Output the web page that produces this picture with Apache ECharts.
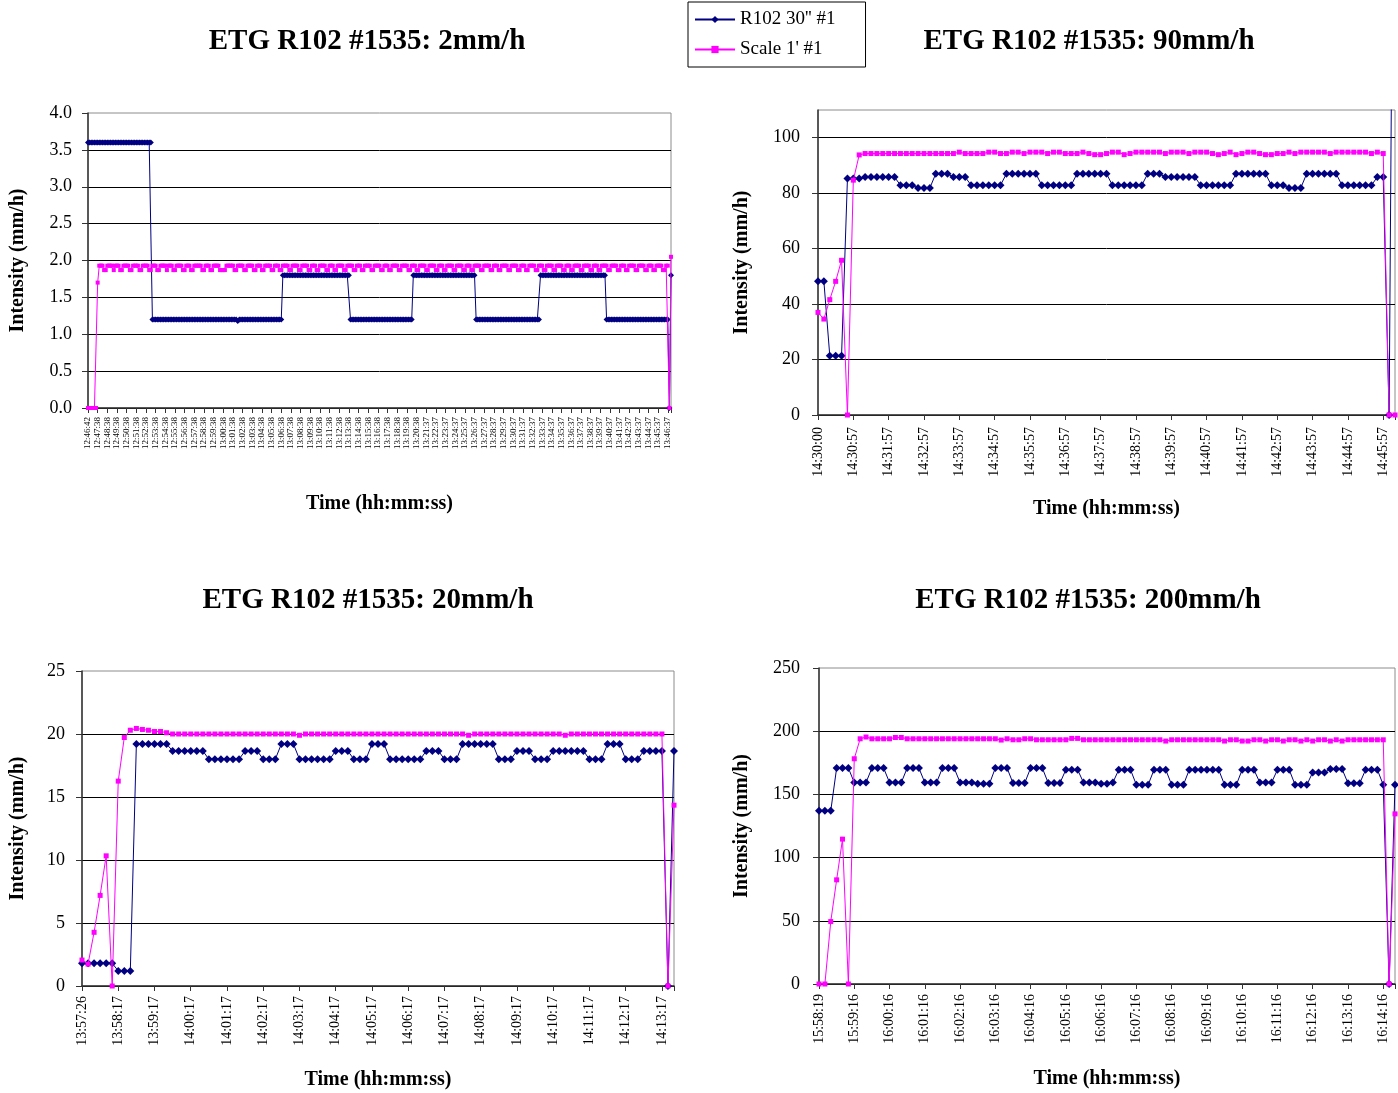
<!DOCTYPE html>
<html><head><meta charset="utf-8">
<script src="https://cdn.jsdelivr.net/npm/echarts@6/dist/echarts.min.js"></script>
<style>html,body{margin:0;padding:0;background:#fff}#c{width:1398px;height:1093px}</style>
</head><body><div id="c"></div>
<script>
const seriesNames = ["R102 30'' #1", "Scale 1' #1"];
const panelTitles = ['ETG R102 #1535: 2mm/h', 'ETG R102 #1535: 90mm/h', 'ETG R102 #1535: 20mm/h', 'ETG R102 #1535: 200mm/h'];
const yTitle = 'Intensity (mm/h)';
const xTitle = 'Time (hh:mm:ss)';

// ---- tick labels (one every 6 samples) ----
const ticksTL = ['12:46:42','12:47:38','12:48:38','12:49:38','12:50:38','12:51:38','12:52:38','12:53:38','12:54:38','12:55:38',
 '12:56:38','12:57:38','12:58:38','12:59:38','13:00:38','13:01:38','13:02:38','13:03:38','13:04:38','13:05:38',
 '13:06:38','13:07:38','13:08:38','13:09:38','13:10:38','13:11:38','13:12:38','13:13:38','13:14:38','13:15:38',
 '13:16:38','13:17:38','13:18:38','13:19:38','13:20:38','13:21:37','13:22:37','13:23:37','13:24:37','13:25:37',
 '13:26:37','13:27:37','13:28:37','13:29:37','13:30:37','13:31:37','13:32:37','13:33:37','13:34:37','13:35:37',
 '13:36:37','13:37:37','13:38:37','13:39:37','13:40:37','13:41:37','13:42:37','13:43:37','13:44:37','13:45:37','13:46:37'];
const ticksTR = ['14:30:00','14:30:57','14:31:57','14:32:57','14:33:57','14:34:57','14:35:57','14:36:57','14:37:57',
 '14:38:57','14:39:57','14:40:57','14:41:57','14:42:57','14:43:57','14:44:57','14:45:57'];
const ticksBL = ['13:57:26','13:58:17','13:59:17','14:00:17','14:01:17','14:02:17','14:03:17','14:04:17','14:05:17',
 '14:06:17','14:07:17','14:08:17','14:09:17','14:10:17','14:11:17','14:12:17','14:13:17'];
const ticksBR = ['15:58:19','15:59:16','16:00:16','16:01:16','16:02:16','16:03:16','16:04:16','16:05:16','16:06:16',
 '16:07:16','16:08:16','16:09:16','16:10:16','16:11:16','16:12:16','16:13:16','16:14:16'];

// ---- 2 mm/h (363 samples) ----
const blueTL = [
 3.6,3.6,3.6,3.6,3.6,3.6,3.6,3.6,3.6,3.6,3.6,3.6,3.6,3.6,3.6,3.6,3.6,3.6,3.6,3.6,3.6,3.6,3.6,3.6,3.6,3.6,3.6,3.6,3.6,3.6,
 3.6,3.6,3.6,3.6,3.6,3.6,3.6,3.6,3.6,3.6,1.2,1.2,1.2,1.2,1.2,1.2,1.2,1.2,1.2,1.2,1.2,1.2,1.2,1.2,1.2,1.2,1.2,1.2,1.2,1.2,
 1.2,1.2,1.2,1.2,1.2,1.2,1.2,1.2,1.2,1.2,1.2,1.2,1.2,1.2,1.2,1.2,1.2,1.2,1.2,1.2,1.2,1.2,1.2,1.2,1.2,1.2,1.2,1.2,1.2,1.2,
 1.2,1.2,1.2,1.18,1.2,1.2,1.2,1.2,1.2,1.2,1.2,1.2,1.2,1.2,1.2,1.2,1.2,1.2,1.2,1.2,1.2,1.2,1.2,1.2,1.2,1.2,1.2,1.2,1.2,1.2,
 1.2,1.8,1.8,1.8,1.8,1.8,1.8,1.8,1.8,1.8,1.8,1.8,1.8,1.8,1.8,1.8,1.8,1.8,1.8,1.8,1.8,1.8,1.8,1.8,1.8,1.8,1.8,1.8,1.8,1.8,
 1.8,1.8,1.8,1.8,1.8,1.8,1.8,1.8,1.8,1.8,1.8,1.8,1.8,1.2,1.2,1.2,1.2,1.2,1.2,1.2,1.2,1.2,1.2,1.2,1.2,1.2,1.2,1.2,1.2,1.2,
 1.2,1.2,1.2,1.2,1.2,1.2,1.2,1.2,1.2,1.2,1.2,1.2,1.2,1.2,1.2,1.2,1.2,1.2,1.2,1.2,1.2,1.2,1.8,1.8,1.8,1.8,1.8,1.8,1.8,1.8,
 1.8,1.8,1.8,1.8,1.8,1.8,1.8,1.8,1.8,1.8,1.8,1.8,1.8,1.8,1.8,1.8,1.8,1.8,1.8,1.8,1.8,1.8,1.8,1.8,1.8,1.8,1.8,1.8,1.8,1.8,
 1.8,1.2,1.2,1.2,1.2,1.2,1.2,1.2,1.2,1.2,1.2,1.2,1.2,1.2,1.2,1.2,1.2,1.2,1.2,1.2,1.2,1.2,1.2,1.2,1.2,1.2,1.2,1.2,1.2,1.2,
 1.2,1.2,1.2,1.2,1.2,1.2,1.2,1.2,1.2,1.2,1.2,1.8,1.8,1.8,1.8,1.8,1.8,1.8,1.8,1.8,1.8,1.8,1.8,1.8,1.8,1.8,1.8,1.8,1.8,1.8,
 1.8,1.8,1.8,1.8,1.8,1.8,1.8,1.8,1.8,1.8,1.8,1.8,1.8,1.8,1.8,1.8,1.8,1.8,1.8,1.8,1.8,1.8,1.2,1.2,1.2,1.2,1.2,1.2,1.2,1.2,
 1.2,1.2,1.2,1.2,1.2,1.2,1.2,1.2,1.2,1.2,1.2,1.2,1.2,1.2,1.2,1.2,1.2,1.2,1.2,1.2,1.2,1.2,1.2,1.2,1.2,1.2,1.2,1.2,1.2,1.2,
 1.2,0,1.8];
const pinkTL = [
 0,0,0,0,0,0,1.7,1.93,1.93,1.93,1.87,1.87,1.93,1.93,1.93,1.93,1.87,1.93,1.93,1.93,1.87,1.87,1.93,1.93,1.93,1.93,1.87,1.87,1.93,1.93,
 1.93,1.93,1.87,1.87,1.93,1.93,1.93,1.93,1.87,1.87,1.93,1.93,1.93,1.87,1.87,1.93,1.93,1.93,1.93,1.87,1.93,1.93,1.93,1.87,1.87,1.93,1.93,1.93,1.93,1.87,
 1.87,1.93,1.93,1.93,1.87,1.87,1.93,1.93,1.93,1.93,1.93,1.87,1.87,1.93,1.93,1.93,1.87,1.87,1.93,1.93,1.93,1.93,1.87,1.87,1.87,1.87,1.93,1.93,1.93,1.93,
 1.93,1.87,1.87,1.93,1.93,1.93,1.93,1.87,1.87,1.93,1.93,1.93,1.93,1.87,1.87,1.93,1.93,1.93,1.87,1.87,1.93,1.93,1.93,1.93,1.87,1.87,1.93,1.93,1.93,1.87,
 1.87,1.93,1.93,1.93,1.93,1.87,1.87,1.93,1.93,1.93,1.93,1.87,1.87,1.93,1.93,1.93,1.93,1.87,1.87,1.93,1.93,1.93,1.87,1.87,1.93,1.93,1.93,1.93,1.87,1.87,
 1.93,1.93,1.93,1.87,1.87,1.93,1.93,1.93,1.93,1.87,1.87,1.93,1.93,1.93,1.93,1.87,1.87,1.93,1.93,1.93,1.87,1.87,1.93,1.93,1.93,1.93,1.87,1.87,1.93,1.93,
 1.93,1.93,1.87,1.87,1.93,1.93,1.93,1.87,1.87,1.93,1.93,1.93,1.93,1.87,1.87,1.93,1.93,1.93,1.93,1.87,1.87,1.93,1.93,1.93,1.87,1.87,1.93,1.93,1.93,1.93,
 1.87,1.87,1.93,1.93,1.93,1.93,1.87,1.87,1.93,1.93,1.93,1.87,1.87,1.93,1.93,1.93,1.93,1.87,1.87,1.93,1.93,1.93,1.93,1.87,1.87,1.93,1.93,1.93,1.87,1.87,
 1.93,1.93,1.93,1.93,1.87,1.87,1.93,1.93,1.93,1.93,1.87,1.87,1.93,1.93,1.93,1.87,1.87,1.93,1.93,1.93,1.93,1.87,1.87,1.93,1.93,1.93,1.93,1.87,1.87,1.93,
 1.93,1.93,1.87,1.87,1.93,1.93,1.93,1.93,1.87,1.87,1.93,1.93,1.93,1.87,1.87,1.93,1.93,1.93,1.93,1.87,1.87,1.93,1.93,1.93,1.93,1.87,1.87,1.93,1.93,1.93,
 1.87,1.87,1.93,1.93,1.93,1.93,1.87,1.87,1.93,1.93,1.93,1.93,1.87,1.87,1.93,1.93,1.93,1.87,1.87,1.93,1.93,1.93,1.93,1.87,1.87,1.93,1.93,1.93,1.93,1.87,
 1.87,1.93,1.93,1.93,1.87,1.87,1.93,1.93,1.93,1.93,1.87,1.87,1.93,1.93,1.93,1.93,1.87,1.87,1.93,1.93,1.93,1.87,1.87,1.93,1.93,1.93,1.93,1.87,1.87,1.93,
 1.93,0,2.05];

// ---- 90 mm/h (99 samples) ----
const blueTR = [48.2,48.2,21.4,21.4,21.4,85.3,85.3,85.3,85.8,85.8,85.8,85.8,85.8,85.8,82.9,82.9,82.9,81.9,81.9,81.9,
 87.0,87.0,87.0,85.8,85.8,85.8,82.9,82.9,82.9,82.9,82.9,82.9,87.0,87.0,87.0,87.0,87.0,87.0,82.9,82.9,
 82.9,82.9,82.9,82.9,87.0,87.0,87.0,87.0,87.0,87.0,82.9,82.9,82.9,82.9,82.9,82.9,87.0,87.0,87.0,85.8,
 85.8,85.8,85.8,85.8,85.8,82.9,82.9,82.9,82.9,82.9,82.9,87.0,87.0,87.0,87.0,87.0,87.0,82.9,82.9,82.9,
 81.9,81.9,81.9,87.0,87.0,87.0,87.0,87.0,87.0,82.9,82.9,82.9,82.9,82.9,82.9,85.8,85.8,0,300];
const pinkTR = [37.0,34.6,41.6,48.2,55.8,0,84.7,93.8,
 94.3,94.3,94.3,94.3,94.3,94.3,94.3,94.3,94.3,94.3,94.3,94.3,
 94.3,94.3,94.3,94.3,94.8,94.3,94.3,94.3,94.3,94.8,94.8,94.3,
 94.3,94.8,94.8,94.3,94.8,94.8,94.8,94.3,94.8,94.8,94.3,94.3,
 94.3,94.8,94.3,93.9,93.9,94.3,94.8,94.8,93.9,94.3,94.8,94.8,
 94.8,94.8,94.8,94.3,94.8,94.8,94.8,94.3,94.8,94.8,94.8,94.3,
 93.9,94.3,94.8,93.9,94.3,94.8,94.8,94.3,93.9,93.9,94.3,94.3,
 94.8,94.3,94.8,94.8,94.8,94.8,94.8,94.3,94.8,94.8,94.8,94.8,
 94.8,94.8,94.3,94.8,94.3,0,0];

// ---- 20 mm/h (99 samples) ----
const blueBL = [1.8,1.8,1.8,1.8,1.8,1.8,1.2,1.2,1.2,19.2,19.2,19.2,19.2,19.2,19.2,18.66,18.66,18.66,18.66,18.66,
 18.66,18.0,18.0,18.0,18.0,18.0,18.0,18.66,18.66,18.66,18.0,18.0,18.0,19.2,19.2,19.2,18.0,18.0,18.0,18.0,
 18.0,18.0,18.66,18.66,18.66,18.0,18.0,18.0,19.2,19.2,19.2,18.0,18.0,18.0,18.0,18.0,18.0,18.66,18.66,18.66,
 18.0,18.0,18.0,19.2,19.2,19.2,19.2,19.2,19.2,18.0,18.0,18.0,18.66,18.66,18.66,18.0,18.0,18.0,18.66,18.66,
 18.66,18.66,18.66,18.66,18.0,18.0,18.0,19.2,19.2,19.2,18.0,18.0,18.0,18.66,18.66,18.66,18.66,0,18.66];
const pinkBL = [2.06,1.74,4.26,7.19,10.33,0,16.26,19.72,20.3,20.44,20.36,20.3,20.2,20.2,20.1,20.0,20.0,20.0,20.0,20.0,
 20.0,20.0,20.0,20.0,20.0,20.0,20.0,20.0,20.0,20.0,20.0,20.0,20.0,20.0,20.0,20.0,19.9,20.0,20.0,20.0,
 20.0,20.0,20.0,20.0,20.0,20.0,20.0,20.0,20.0,20.0,20.0,20.0,20.0,20.0,20.0,20.0,20.0,20.0,20.0,20.0,
 20.0,20.0,20.0,20.0,19.9,20.0,20.0,20.0,20.0,20.0,20.0,20.0,20.0,20.0,20.0,20.0,20.0,20.0,20.0,20.0,
 19.9,20.0,20.0,20.0,20.0,20.0,20.0,20.0,20.0,20.0,20.0,20.0,20.0,20.0,20.0,20.0,20.0,0,14.35];

// ---- 200 mm/h (99 samples) ----
const blueBR = [137.0,137.0,137.0,170.8,170.8,170.8,159.4,159.4,159.4,170.8,170.8,170.8,159.4,159.4,159.4,170.8,170.8,170.8,159.4,159.4,
 159.4,170.8,170.8,170.8,159.4,159.4,159.4,158.4,158.4,158.4,170.8,170.8,170.8,159.0,159.0,159.0,170.8,170.8,170.8,159.0,
 159.0,159.0,169.5,169.5,169.5,159.4,159.4,159.4,158.4,158.4,159.4,169.5,169.5,169.5,157.6,157.6,157.6,169.5,169.5,169.5,
 157.6,157.6,157.6,169.5,169.5,169.5,169.5,169.5,169.5,157.6,157.6,157.6,169.5,169.5,169.5,159.4,159.4,159.4,169.5,169.5,
 169.5,157.6,157.6,157.6,167.4,167.4,167.4,170.0,170.0,170.0,158.9,158.9,158.9,169.5,169.5,169.5,157.6,0,157.6];
const pinkBR = [0,0,49.4,82.4,114.6,0,178.2,194.0,195.4,194.0,
 194.0,194.0,194.0,195.0,195.0,194.0,194.0,194.0,194.0,194.0,194.0,194.0,
 194.0,194.0,194.0,194.0,194.0,194.0,194.0,194.0,194.0,193.0,194.0,193.2,
 193.2,194.0,194.0,193.2,193.2,193.2,193.2,193.2,193.2,194.3,194.3,193.2,
 193.2,193.2,193.2,193.2,193.2,193.2,193.2,193.2,193.2,193.2,193.2,193.2,
 193.2,192.2,193.2,193.2,193.2,193.2,193.2,193.2,193.2,193.2,193.2,192.2,
 193.2,193.2,192.2,192.2,193.2,193.2,192.2,193.2,193.2,192.2,193.2,193.2,
 192.2,193.2,192.2,193.2,193.2,192.2,193.2,192.2,193.2,193.2,193.2,193.2,
 193.2,193.2,193.2,0,134.6];

const F = 'Liberation Serif';
const NAVY = '#000080', MAG = '#FF00FF';

const panels = [
 {title: panelTitles[0], tx: 367, ty: 42, grid: {left: 88, top: 113, width: 583, height: 295}, ticks: ticksTL, blue: blueTL, pink: pinkTL,
  ymax: 4, yint: 0.5, dec: 1, showMax: true, xfs: 9, xm: 9, ym: 16, yGap: 60, xGap: 86, bs: 6, ps: 4},
 {title: panelTitles[1], tx: 1089, ty: 42, grid: {left: 818, top: 110, width: 577, height: 305}, ticks: ticksTR, blue: blueTR, pink: pinkTR,
  ymax: 110, yint: 20, dec: 0, showMax: false, xfs: 14, xm: 12, ym: 18, yGap: 66, xGap: 84, bs: 8, ps: 5},
 {title: panelTitles[2], tx: 368, ty: 601, grid: {left: 82, top: 671, width: 592, height: 315}, ticks: ticksBL, blue: blueBL, pink: pinkBL,
  ymax: 25, yint: 5, dec: 0, showMax: true, xfs: 14, xm: 10, ym: 17, yGap: 54, xGap: 84, bs: 8, ps: 5},
 {title: panelTitles[3], tx: 1088, ty: 601, grid: {left: 819, top: 668, width: 576, height: 316}, ticks: ticksBR, blue: blueBR, pink: pinkBR,
  ymax: 250, yint: 50, dec: 0, showMax: true, xfs: 14, xm: 10, ym: 19, yGap: 67, xGap: 85, bs: 8, ps: 5}
];

function cats(ticks, n) {
  const out = [];
  for (let i = 0; i < n; i++) out.push(i % 6 === 0 && ticks[i / 6] !== undefined ? ticks[i / 6] : '');
  return out;
}

const option = {
  animation: false,
  backgroundColor: '#fff',
  textStyle: {fontFamily: F},
  legend: {
    orient: 'vertical', left: 688, top: 2, padding: [8, 30, 8, 6], itemGap: 11,
    itemWidth: 40, itemHeight: 9, borderColor: '#000', borderWidth: 1,
    textStyle: {fontFamily: F, fontSize: 19, color: '#000'},
    data: seriesNames
  },
  grid: panels.map(p => Object.assign({show: true, borderColor: '#8c8c8c', borderWidth: 1, backgroundColor: 'transparent', containLabel: false}, p.grid)),
  xAxis: panels.map((p, i) => ({
    type: 'category', gridIndex: i, boundaryGap: false, data: cats(p.ticks, p.blue.length),
    name: xTitle, nameLocation: 'middle', nameGap: p.xGap,
    nameTextStyle: {fontFamily: F, fontWeight: 'bold', fontSize: 20, color: '#000'},
    axisLine: {lineStyle: {color: '#333', width: 1.5}},
    axisTick: {show: true, interval: 5, length: 5, lineStyle: {color: '#333'}},
    axisLabel: {interval: 5, rotate: 90, fontFamily: F, fontSize: p.xfs, color: '#000', margin: p.xm,
      showMinLabel: true, showMaxLabel: true, hideOverlap: false},
    splitLine: {show: false}
  })),
  yAxis: panels.map((p, i) => ({
    type: 'value', gridIndex: i, min: 0, max: p.ymax, interval: p.yint,
    name: yTitle, nameLocation: 'middle', nameRotate: 90, nameGap: p.yGap,
    nameTextStyle: {fontFamily: F, fontWeight: 'bold', fontSize: 20, color: '#000'},
    axisLine: {show: true, lineStyle: {color: '#333', width: 1.5}},
    axisTick: {show: true, length: 6, lineStyle: {color: '#333'}},
    axisLabel: {fontFamily: F, fontSize: 18, color: '#000', margin: p.ym, showMaxLabel: p.showMax,
      formatter: v => v.toFixed(p.dec)},
    splitLine: {show: true, showMaxLine: false, lineStyle: {color: '#000', width: 1}}
  })),
  series: [],
  graphic: panels.map(p => ({
    type: 'text', x: p.tx, y: p.ty,
    style: {text: p.title, fill: '#000', font: 'bold 29px "Liberation Serif"', textAlign: 'center', textVerticalAlign: 'middle'}
  }))
};

panels.forEach((p, i) => {
  option.series.push({
    type: 'line', name: seriesNames[0], xAxisIndex: i, yAxisIndex: i, data: p.blue,
    symbol: 'diamond', symbolSize: p.bs, showAllSymbol: true, z: 2,
    lineStyle: {color: NAVY, width: 1}, itemStyle: {color: NAVY}
  });
  option.series.push({
    type: 'line', name: seriesNames[1], xAxisIndex: i, yAxisIndex: i, data: p.pink,
    symbol: 'rect', symbolSize: p.ps, showAllSymbol: true, z: 3,
    lineStyle: {color: MAG, width: 1}, itemStyle: {color: MAG}
  });
});

const chart = echarts.init(document.getElementById('c'), null, {renderer: 'canvas'});
chart.setOption(option);
</script>
</body></html>
